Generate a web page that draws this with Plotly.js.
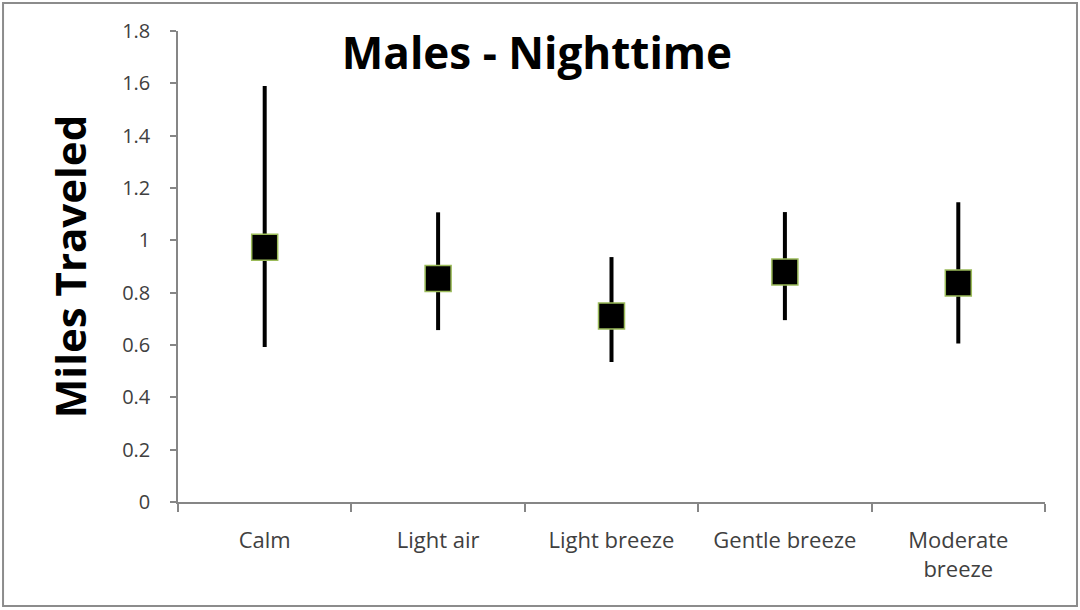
<!DOCTYPE html>
<html><head><meta charset="utf-8">
<script src="https://cdn.plot.ly/plotly-3.0.1.min.js"></script>
<style>body{margin:0;background:#fff}#chart{width:1080px;height:610px}</style>
</head><body><div id="chart"></div>
<script>
const categories = ["Calm", "Light air", "Light breeze", "Gentle breeze", "Moderate<br>breeze"];
const means = [0.974, 0.854, 0.711, 0.879, 0.837];
const upper = [1.590, 1.107, 0.936, 1.108, 1.146];
const lower = [0.592, 0.657, 0.535, 0.695, 0.606];
const yTicks = [0, 0.2, 0.4, 0.6, 0.8, 1, 1.2, 1.4, 1.6, 1.8];

const plus = means.map((m, i) => upper[i] - m);
const minus = means.map((m, i) => m - lower[i]);

const trace = {
  type: 'scatter', mode: 'markers',
  x: categories, y: means,
  marker: {symbol: 'square', size: 26, color: '#000', line: {color: '#9bbb59', width: 1.5}},
  error_y: {type: 'data', symmetric: false, array: plus, arrayminus: minus,
            color: '#000', thickness: 4, width: 0},
  hoverinfo: 'x+y'
};

const layout = {
  width: 1080, height: 610,
  margin: {l: 178, r: 35, t: 31, b: 108},
  paper_bgcolor: '#fff', plot_bgcolor: '#fff',
  showlegend: false,
  font: {family: 'Open Sans, sans-serif', color: '#404040'},
  title: {text: '<b>Males - Nighttime</b>', font: {family: 'Open Sans, sans-serif', size: 44, color: '#000'},
          xref: 'paper', x: 0.414, xanchor: 'center', yref: 'container', y: 0.912, yanchor: 'middle'},
  xaxis: {
    type: 'category', range: [-0.5, 4.5],
    showline: true, linecolor: '#868686', linewidth: 1.5,
    ticks: 'outside', tickson: 'boundaries', ticklen: 8, tickcolor: '#868686', tickwidth: 1.5,
    showgrid: false, zeroline: false,
    tickfont: {size: 22, color: '#404040'}, ticklabelstandoff: 18
  },
  yaxis: {
    range: [0, 1.8], tickvals: yTicks, ticktext: yTicks.map(String),
    showline: true, linecolor: '#868686', linewidth: 1.5,
    ticks: 'outside', ticklen: 6, tickcolor: '#868686', tickwidth: 1.5,
    showgrid: false, zeroline: false,
    tickfont: {size: 20, color: '#404040'}, ticklabelstandoff: 16,
    title: {text: '<b>Miles Traveled</b>', font: {size: 42, color: '#000'}, standoff: 22}
  },
  shapes: [{type: 'rect', xref: 'paper', yref: 'paper',
            x0: -0.2018, x1: 1.0369, y0: -0.2208, y1: 1.0594,
            line: {color: '#8c8c8c', width: 2}, fillcolor: 'rgba(0,0,0,0)'}]
};

Plotly.newPlot('chart', [trace], layout, {displayModeBar: false});
</script></body></html>
